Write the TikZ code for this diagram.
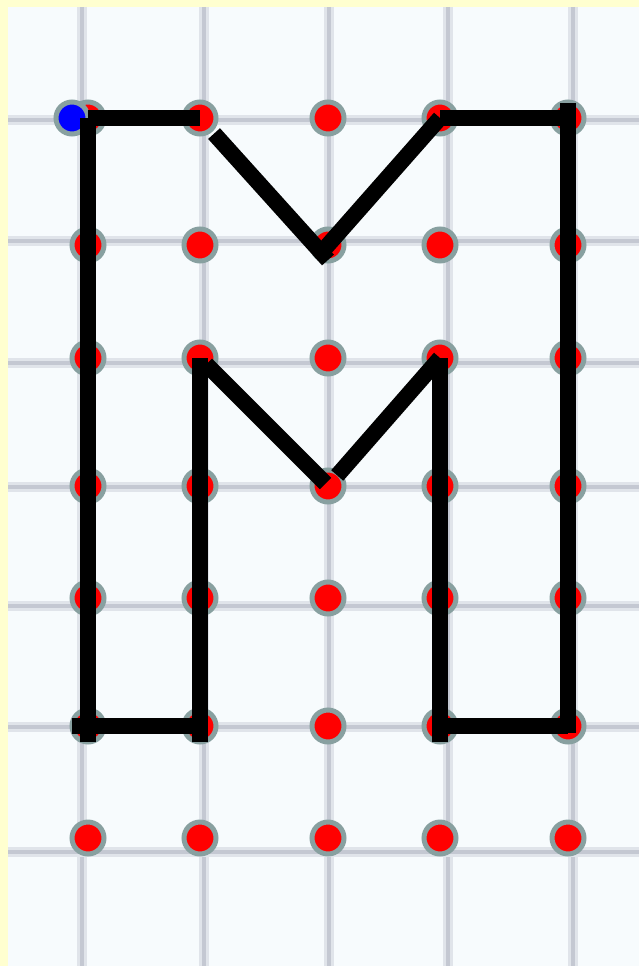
\documentclass[tikz,border=0pt]{standalone}
\usepackage{xcolor}
\usepackage{tikz}
\usetikzlibrary{calc}
\definecolor{paperyellow}{RGB}{255, 255, 208}
\definecolor{paperwhite}{RGB}{247, 251, 253}
\definecolor{gridgrey}{RGB}{196, 200, 210}
\definecolor{ringgrey}{RGB}{136, 160, 160}
\definecolor{dotred}{RGB}{255, 0, 0}
\definecolor{dotblue}{RGB}{0, 0, 255}

\begin{document}
\begin{tikzpicture}[
    x=0.02cm, y=-0.02cm,
    gridhaze/.style={draw=gridgrey!45!paperwhite, line width=0.2cm},
    gridline/.style={draw=gridgrey, line width=0.08cm},
    dot/.style={circle, draw=ringgrey, fill=dotred, line width=0.1cm, minimum size=0.64cm, inner sep=0pt},
    startdot/.style={dot, fill=dotblue},
    stroke/.style={draw=black, line width=0.32cm}
]

% paper
\fill [paperyellow] (0,0) rectangle (639,966);
\fill [paperwhite] (8,7) rectangle (639,966);
\useasboundingbox (0,0) rectangle (639,966);

% squared paper
\foreach \gx in {82,204,329,448,573} {
    \path [gridhaze] (\gx,7) -- (\gx,966);
    \path [gridline] (\gx,7) -- (\gx,966);
}
\foreach \gy in {120,241,363,487,606,727,852} {
    \path [gridhaze] (8,\gy) -- (639,\gy);
    \path [gridline] (8,\gy) -- (639,\gy);
}

% dots
\foreach \x [count=\i] in {88,200,328,440,568}
    \foreach \y [count=\j] in {118,245,358,486,598,726,838}
        \node [dot] (dot-\i-\j) at (\x,\y) {};
\node [startdot] (start) at (72,118) {};

\coordinate (v-tip) at ($(dot-3-2)+(0,15)$);

% the letter
\path [stroke] (dot-1-1.center) -- (dot-2-1.center);
\path [stroke, shorten >=-0.32cm] (dot-1-1.center) -- (dot-1-6.center);
\path [stroke, shorten <=-0.32cm] (dot-1-6.center) -- (dot-2-6.center);
\path [stroke, shorten <=-0.32cm] (dot-2-6.center) -- (dot-2-3.center);
\path [stroke, shorten <=0.18cm, shorten >=0.07cm] (dot-2-3.center) -- (dot-3-4.center);
\path [stroke, shorten <=0.28cm] (dot-3-4.center) -- (dot-4-3.center);
\path [stroke, shorten >=-0.32cm] (dot-4-3.center) -- (dot-4-6.center);
\path [stroke] (dot-4-6.center) -- (dot-5-6.center);
\path [stroke, shorten <=-0.14cm, shorten >=-0.3cm] (dot-5-6.center) -- (dot-5-1.center);
\path [stroke] (dot-4-1.center) -- (dot-5-1.center);
\path [stroke, shorten >=-0.08cm] (dot-4-1.center) -- (dot-3-2.center);
\path [stroke, shorten <=0.42cm] (dot-2-1.center) -- (v-tip);

\end{tikzpicture}
\end{document}
